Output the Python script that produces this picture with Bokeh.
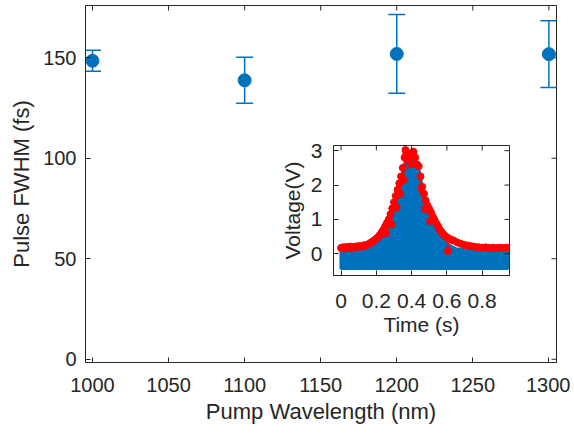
from math import pi
from bokeh.plotting import figure
from bokeh.models import Whisker, TeeHead, ColumnDataSource, FixedTicker
from bokeh.layouts import column
from bokeh.embed import file_html
from bokeh.resources import INLINE

# ---------------- data: main chart ----------------
wavelength = [1000, 1100, 1200, 1300]
fwhm = [148.5, 138.8, 151.9, 151.8]
fwhm_err = [5.2, 11.4, 19.6, 16.6]
x_ticks = [1000, 1050, 1100, 1150, 1200, 1250, 1300]
y_ticks = [0, 50, 100, 150]

# ---------------- data: inset (autocorrelation trace) ----------------
red_t = [0.000, 0.010, 0.020, 0.030, 0.040, 0.050, 0.060, 0.070, 0.080, 0.090,
         0.100, 0.110, 0.120, 0.130, 0.140, 0.150, 0.160, 0.170, 0.180, 0.190,
         0.200, 0.210, 0.220, 0.230, 0.240, 0.250, 0.255, 0.260, 0.270, 0.280,
         0.285, 0.290, 0.300, 0.310, 0.315, 0.320, 0.330, 0.335, 0.340, 0.350,
         0.355, 0.360, 0.365, 0.370, 0.380, 0.390, 0.395, 0.400, 0.410, 0.420,
         0.430, 0.440, 0.450, 0.455, 0.460, 0.470, 0.475, 0.480, 0.490, 0.500,
         0.505, 0.510, 0.520, 0.530, 0.540, 0.550, 0.560, 0.570, 0.580, 0.590,
         0.600, 0.605, 0.610, 0.620, 0.630, 0.640, 0.660, 0.680, 0.700, 0.720,
         0.740, 0.760, 0.780, 0.800, 0.820, 0.840, 0.860, 0.880, 0.900, 0.920,
         0.940, 0.948]
red_v = [0.17, 0.19, 0.16, 0.20, 0.18, 0.21, 0.17, 0.20, 0.19, 0.22,
         0.20, 0.23, 0.21, 0.25, 0.24, 0.27, 0.29, 0.33, 0.36, 0.40,
         0.44, 0.49, 0.55, 0.62, 0.70, 0.80, 0.60, 0.90, 1.00, 1.15,
         0.85, 1.32, 1.50, 1.68, 1.35, 1.86, 2.05, 1.75, 2.25, 2.50,
         2.15, 2.80, 3.02, 2.90, 2.75, 2.85, 2.60, 2.92, 2.97, 2.80,
         2.60, 2.55, 2.25, 1.90, 1.95, 1.75, 1.30, 1.55, 1.40, 1.30,
         0.95, 1.20, 1.08, 0.98, 0.88, 0.80, 0.70, 0.63, 0.57, 0.52,
         0.48, 0.08, 0.44, 0.42, 0.40, 0.38, 0.33, 0.29, 0.26, 0.24,
         0.22, 0.20, 0.19, 0.18, 0.19, 0.17, 0.18, 0.17, 0.18, 0.17,
         0.18, 0.17]
blue_t = [0.005, 0.15, 0.20, 0.25, 0.28, 0.30, 0.33, 0.35, 0.37, 0.40,
          0.42, 0.44, 0.46, 0.48, 0.50, 0.53, 0.56, 0.60, 0.65, 0.70, 0.94]
blue_top = [0.08, 0.10, 0.25, 0.55, 0.90, 1.25, 1.85, 2.25, 2.70, 2.80,
            2.65, 2.35, 1.75, 1.35, 1.10, 0.80, 0.50, 0.25, 0.12, 0.08, 0.08]
blue_floor = -0.40
inset_x_ticks = [0, 0.2, 0.4, 0.6, 0.8]
inset_x_labels = ["0", "0.2", "0.4", "0.6", "0.8"]
inset_y_ticks = [0, 1, 2, 3]

BLUE = "#0072BD"
RED = "#FF0000"
AX = "#262626"
FONT = "Liberation Sans"


def style_axis(ax, ticks, tick_size, label_size):
    ax.ticker = FixedTicker(ticks=ticks)
    ax.minor_tick_line_color = None
    ax.major_tick_in = 5
    ax.major_tick_out = 0
    ax.axis_line_color = AX
    ax.major_tick_line_color = AX
    ax.major_label_text_color = AX
    ax.major_label_text_font = FONT
    ax.axis_label_text_font = FONT
    ax.axis_label_text_font_style = "normal"
    ax.axis_label_text_color = AX
    ax.major_label_text_font_size = tick_size
    ax.axis_label_text_font_size = label_size


def mirror_ticks(fig, xt, yt, xr, yr):
    # inward tick marks on the top and right edges (box style)
    fig.scatter(xt, [yr[1]] * len(xt), marker="dash", angle=pi / 2, size=10,
                line_color=AX, line_width=1)
    fig.scatter([xr[1]] * len(yt), yt, marker="dash", size=10,
                line_color=AX, line_width=1)


# ---------------- main figure ----------------
main_xr = (995.4, 1305)
main_yr = (-1.6, 176)
p = figure(width=570, height=430, x_range=main_xr, y_range=main_yr,
           output_backend="svg", toolbar_location=None,
           min_border_left=85, min_border_right=14, min_border_top=5,
           min_border_bottom=68)
p.xgrid.visible = False
p.ygrid.visible = False
p.outline_line_color = AX
p.background_fill_color = "white"
p.border_fill_color = "white"

style_axis(p.xaxis[0], x_ticks, "20px", "22px")
style_axis(p.yaxis[0], y_ticks, "20px", "22px")
p.xaxis[0].axis_label = "Pump Wavelength (nm)"
p.yaxis[0].axis_label = "Pulse FWHM (fs)"
p.xaxis[0].major_label_standoff = 15
p.yaxis[0].major_label_standoff = 9
p.xaxis[0].axis_label_standoff = 4
p.yaxis[0].axis_label_standoff = 6
mirror_ticks(p, x_ticks, y_ticks, main_xr, main_yr)

upper = [v + e for v, e in zip(fwhm, fwhm_err)]
lower = [v - e for v, e in zip(fwhm, fwhm_err)]
src = ColumnDataSource(dict(x=wavelength, y=fwhm, upper=upper, lower=lower))
p.add_layout(Whisker(source=src, base="x", upper="upper", lower="lower",
                     line_color=BLUE, line_width=1.5,
                     upper_head=TeeHead(size=17, line_color=BLUE, line_width=1.5),
                     lower_head=TeeHead(size=17, line_color=BLUE, line_width=1.5)))
p.scatter("x", "y", source=src, size=13, fill_color=BLUE, line_color=BLUE)

# ---------------- inset figure ----------------
# (the column aligns plot frames, so the inset uses the same side borders)
ins_xr = (-0.043, 0.955)
ins_yr = (-0.63, 3.15)
ins = figure(width=275, height=230, x_range=ins_xr, y_range=ins_yr,
             output_backend="svg", toolbar_location=None,
             min_border_left=85, min_border_right=14, min_border_top=10,
             min_border_bottom=90)
ins.xgrid.visible = False
ins.ygrid.visible = False
ins.outline_line_color = AX
ins.background_fill_color = "white"
ins.border_fill_alpha = 0

style_axis(ins.xaxis[0], inset_x_ticks, "21px", "21px")
style_axis(ins.yaxis[0], inset_y_ticks, "21px", "21px")
ins.xaxis[0].major_label_overrides = dict(zip(inset_x_ticks, inset_x_labels))
ins.xaxis[0].axis_label = "Time (s)"
ins.yaxis[0].axis_label = "Voltage(V)"
ins.xaxis[0].major_label_standoff = 18
ins.yaxis[0].major_label_standoff = 11
ins.xaxis[0].axis_label_standoff = 2
ins.yaxis[0].axis_label_standoff = 4

poly_x = blue_t + blue_t[::-1]
poly_y = blue_top + [blue_floor] * len(blue_t)
ins.patch(poly_x, poly_y, fill_color=BLUE, line_color=BLUE, line_width=5,
          line_join="round")
ins.line(red_t, red_v, line_color=RED, line_width=1)
ins.scatter(red_t, red_v, size=7, fill_color=RED, line_color=RED)
mirror_ticks(ins, inset_x_ticks, inset_y_ticks, ins_xr, ins_yr)

ins.margin = (135 - 430, 0, 0, 248)

layout = column(p, ins)
open("out.html", "w").write(file_html(layout, INLINE))
